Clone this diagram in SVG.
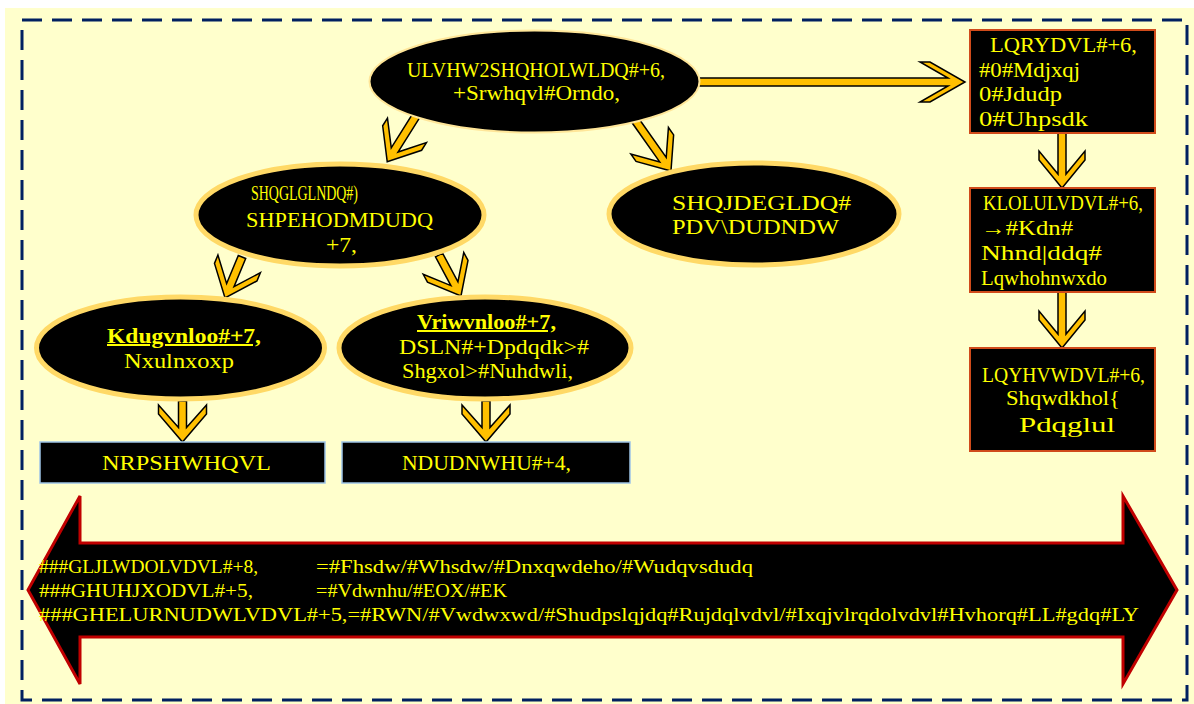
<svg xmlns="http://www.w3.org/2000/svg" width="1194" height="704" viewBox="0 0 1194 704">
<style>
.t{font-family:"Liberation Serif","DejaVu Serif",serif;font-size:20px;fill:#FFFF00;}
.b{font-size:19px;}
.u{font-weight:bold;text-decoration:underline;}
.el{fill:#000;stroke:#FFD966;stroke-width:5;}
.bx{fill:#000;stroke:#D04B1B;stroke-width:2;}
.bb{fill:#000;stroke:#9DC3E6;stroke-width:1.5;}
.ar{fill:#FFC000;stroke:#000;stroke-width:1.5;stroke-linejoin:miter;}
</style>
<rect x="0" y="0" width="1194" height="704" fill="#FFFFFF"/>
<rect x="5" y="8" width="1189" height="696" fill="#FFFFCC"/>
<rect x="22" y="20" width="1165" height="680" fill="none" stroke="#002060" stroke-width="3" stroke-dasharray="20 10"/>

<g id="connectors">
<polygon class="ar" transform="translate(699,82)" points="0,-4 249,-4 221,-20 231,-20 266,0 231,20 221,20 249,4 0,4"/>
<polygon class="ar" transform="translate(416,116) rotate(122.2)" points="0,-4 40.1,-4 17,-23 26,-23 54,0 26,23 17,23 40.1,4 0,4"/>
<polygon class="ar" transform="translate(635,120) rotate(54.8)" points="0,-4 48.5,-4 25.4,-23 34.4,-23 62.4,0 34.4,23 25.4,23 48.5,4 0,4"/>
<polygon class="ar" transform="translate(242,257) rotate(112.5)" points="0,-4 30.5,-4 7.4,-23 16.4,-23 44.4,0 16.4,23 7.4,23 30.5,4 0,4"/>
<polygon class="ar" transform="translate(439,255) rotate(61.8)" points="0,-4 32.6,-4 9.5,-23 18.5,-23 46.5,0 18.5,23 9.5,23 32.6,4 0,4"/>
<polygon class="ar" transform="translate(1062,133) rotate(90)" points="0,-4 41.1,-4 18,-23 27,-23 55,0 27,23 18,23 41.1,4 0,4"/>
<polygon class="ar" transform="translate(1062,292) rotate(90)" points="0,-4 42.1,-4 19,-23 28,-23 56,0 28,23 19,23 42.1,4 0,4"/>
<polygon class="ar" transform="translate(182.5,401) rotate(90)" points="0,-4 26.5,-4 4,-24 13,-24 41,0 13,24 4,24 26.5,4 0,4"/>
<polygon class="ar" transform="translate(486,401) rotate(90)" points="0,-4 26.5,-4 4,-24 13,-24 41,0 13,24 4,24 26.5,4 0,4"/>
</g>

<g id="riset">
<ellipse cx="534.5" cy="81.5" rx="165" ry="51" fill="#000" stroke="#FFE699" stroke-width="2"/>
<text class="t" x="407" y="77" textLength="258" lengthAdjust="spacingAndGlyphs">ULVHW2SHQHOLWLDQ#+6,</text>
<text class="t" x="453" y="100" textLength="167" lengthAdjust="spacingAndGlyphs">+Srwhqvl#Orndo,</text>
</g>

<g id="inovasi">
<rect class="bx" x="970" y="30" width="185" height="103"/>
<text class="t" x="990" y="52" textLength="147" lengthAdjust="spacingAndGlyphs">LQRYDVL#+6,</text>
<text class="t" x="979" y="77" textLength="101" lengthAdjust="spacingAndGlyphs">#0#Mdjxqj</text>
<text class="t" x="979" y="101" textLength="83" lengthAdjust="spacingAndGlyphs">0#Jdudp</text>
<text class="t" x="979" y="126" textLength="109" lengthAdjust="spacingAndGlyphs">0#Uhpsdk</text>
</g>

<g id="hilirisasi">
<rect class="bx" x="970" y="188" width="185" height="104"/>
<text class="t" x="983" y="210" textLength="160" lengthAdjust="spacingAndGlyphs">KLOLULVDVL#+6,</text>
<text class="t" x="981" y="235" textLength="92" lengthAdjust="spacingAndGlyphs">→#Kdn#</text>
<text class="t" x="981" y="260" textLength="121" lengthAdjust="spacingAndGlyphs">Nhnd|ddq#</text>
<text class="t" x="981" y="285" textLength="126" lengthAdjust="spacingAndGlyphs">Lqwhohnwxdo</text>
</g>

<g id="investasi">
<rect class="bx" x="970" y="348" width="185" height="103"/>
<text class="t" x="982" y="382" textLength="163" lengthAdjust="spacingAndGlyphs">LQYHVWDVL#+6,</text>
<text class="t" x="1006" y="405" textLength="114" lengthAdjust="spacingAndGlyphs">Shqwdkhol{</text>
<text class="t" x="1019" y="432" textLength="96" lengthAdjust="spacingAndGlyphs">Pdqglul</text>
</g>

<g id="pendidikan">
<ellipse class="el" cx="340" cy="215" rx="144" ry="51"/>
<text class="t" x="251" y="200" textLength="107" lengthAdjust="spacingAndGlyphs">SHQGLGLNDQ#)</text>
<text class="t" x="246" y="227" textLength="187" lengthAdjust="spacingAndGlyphs">SHPEHODMDUDQ</text>
<text class="t" x="326" y="252" textLength="31" lengthAdjust="spacingAndGlyphs">+7,</text>
</g>

<g id="pengabdian">
<ellipse class="el" cx="754" cy="214" rx="145" ry="51"/>
<text class="t" x="672" y="210" textLength="179" lengthAdjust="spacingAndGlyphs">SHQJDEGLDQ#</text>
<text class="t" x="672" y="234" textLength="167" lengthAdjust="spacingAndGlyphs">PDV\DUDNDW</text>
</g>

<g id="hardskill">
<ellipse class="el" cx="180.5" cy="348" rx="144" ry="51"/>
<text class="t u" x="107" y="343" textLength="154" lengthAdjust="spacingAndGlyphs">Kdugvnloo#+7,</text>
<text class="t" x="124" y="368" textLength="110" lengthAdjust="spacingAndGlyphs">Nxulnxoxp</text>
</g>

<g id="softskill">
<ellipse class="el" cx="485" cy="348" rx="146" ry="51"/>
<text class="t u" x="417" y="329" textLength="139" lengthAdjust="spacingAndGlyphs">Vriwvnloo#+7,</text>
<text class="t" x="399" y="354" textLength="190" lengthAdjust="spacingAndGlyphs">DSLN#+Dpdqdk&gt;#</text>
<text class="t" x="402" y="378" textLength="171" lengthAdjust="spacingAndGlyphs">Shgxol&gt;#Nuhdwli,</text>
</g>

<g id="kompetensi">
<rect class="bb" x="40" y="442" width="285" height="41"/>
<text class="t" x="102" y="470" textLength="169" lengthAdjust="spacingAndGlyphs">NRPSHWHQVL</text>
</g>

<g id="karakter">
<rect class="bb" x="342" y="442" width="288" height="41"/>
<text class="t" x="402" y="470" textLength="169" lengthAdjust="spacingAndGlyphs">NDUDNWHU#+4,</text>
</g>

<g id="reformasi">
<polygon points="28,590 80,496 80,543 1123,543 1123,496 1177,590 1123,684 1123,637 80,637 80,684" fill="#000" stroke="#C00000" stroke-width="3" stroke-linejoin="miter"/>
<text class="t b" x="39" y="573" textLength="219" lengthAdjust="spacingAndGlyphs">###GLJLWDOLVDVL#+8,</text>
<text class="t b" x="316" y="573" textLength="437" lengthAdjust="spacingAndGlyphs">=#Fhsdw/#Whsdw/#Dnxqwdeho/#Wudqvsdudq</text>
<text class="t b" x="39" y="597" textLength="214" lengthAdjust="spacingAndGlyphs">###GHUHJXODVL#+5,</text>
<text class="t b" x="316" y="597" textLength="191" lengthAdjust="spacingAndGlyphs">=#Vdwnhu/#EOX/#EK</text>
<text class="t b" x="39" y="621" textLength="1100" lengthAdjust="spacingAndGlyphs">###GHELURNUDWLVDVL#+5,=#RWN/#Vwdwxwd/#Shudpslqjdq#Rujdqlvdvl/#Ixqjvlrqdolvdvl#Hvhorq#LL#gdq#LY</text>
</g>
</svg>
